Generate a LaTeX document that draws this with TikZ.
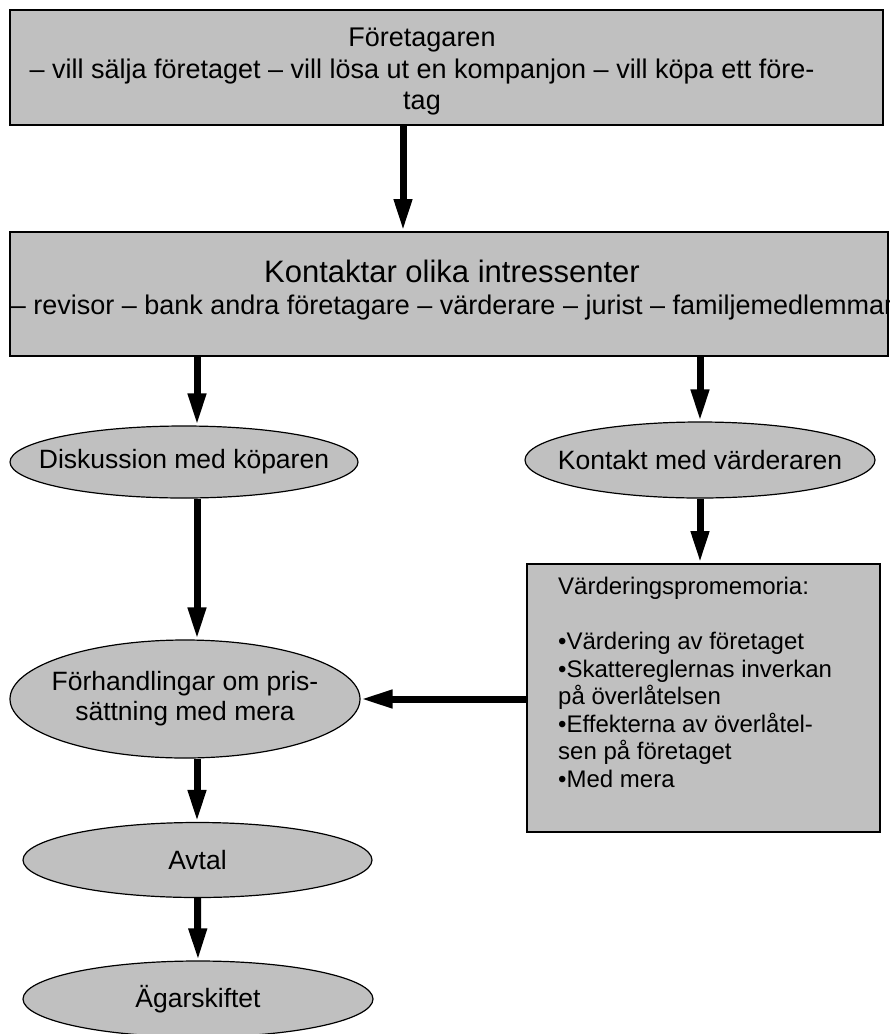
\documentclass[tikz,border=0pt]{standalone}
\usepackage{fontspec}
\setmainfont{Liberation Sans}
\usetikzlibrary{arrows.meta,shapes.geometric}
\definecolor{boxgrey}{RGB}{192,192,192}

\begin{document}
\begin{tikzpicture}[
      x=1pt,y=-1pt,
      box/.style={rectangle,draw=black,fill=boxgrey,line width=2pt,inner sep=0pt},
      oval/.style={ellipse,draw=black,fill=boxgrey,line width=1.2pt,inner xsep=-60pt,inner ysep=0pt,
                   align=center,font=\fontsize{26.5}{30}\selectfont},
      arr/.style={-{Triangle[length=32pt,width=17pt]},line width=7pt},
      >=Triangle
    ]
    \useasboundingbox (0,0) rectangle (890,1034);

    \node[box,minimum width=873pt,minimum height=115pt] (agare) at (446.5,67.5) {};
    \node[align=center,font=\fontsize{27}{31.5}\selectfont] (agaretext) at (422,72)
          {Företagaren\\– vill sälja företaget – vill lösa ut en kompanjon – vill köpa ett före-\\tag};
    \node[box,minimum width=878pt,minimum height=124pt] (kontakt) at (449,294) {};
    \node[align=center,font=\fontsize{27}{32}\selectfont] (kontakttext) at (452,290)
          {{\fontsize{31}{32}\selectfont Kontaktar olika intressenter}\\
           – revisor – bank andra företagare – värderare – jurist – familjemedlemmar};

    \node[oval,minimum width=348pt,minimum height=72pt] (diskussion) at (184,462) {Diskussion med köparen};
    \node[oval,minimum width=350pt,minimum height=76pt] (vardering) at (700,460) {Kontakt med värderaren};
    \node[oval,minimum width=350pt,minimum height=118pt] (forhandling) at (185,699)
          {Förhandlingar om pris-\\sättning med mera};
    \node[oval,minimum width=349pt,minimum height=75pt] (avtal) at (197.5,860) {Avtal};
    \node[oval,minimum width=350pt,minimum height=76pt] (skifte) at (198,999) {Ägarskiftet};

    \node[box,minimum width=353pt,minimum height=268pt] (memo) at (703.5,698) {};
    \node[anchor=north west,align=left,inner sep=0pt,font=\fontsize{24}{27.5}\selectfont] (memotext) at (558,577)
          {Värderingspromemoria:\\[27.5pt]
           •Värdering av företaget\\
           •Skattereglernas inverkan\\
           på överlåtelsen\\
           •Effekterna av överlåtel-\\
           sen på företaget\\
           •Med mera};

    \draw[arr] (agare.south -| 403,0) -- (kontakt.north -| 403,0);
    \draw[arr] (kontakt.south -| 197,0) -- (diskussion.north -| 197,0);
    \draw[arr] (kontakt.south -| vardering.north) -- (vardering.north);
    \draw[arr] (diskussion.south -| 197,0) -- (forhandling.north -| 197,0);
    \draw[arr] (vardering.south) -- (vardering.south |- memo.north);
    \draw[arr] (memo.west |- forhandling.east) -- (forhandling.east);
    \draw[arr] (forhandling.south -| 197,0) -- (avtal.north -| 197,0);
    \draw[arr] (avtal.south) -- (skifte.north);

  \end{tikzpicture}
\end{document}
